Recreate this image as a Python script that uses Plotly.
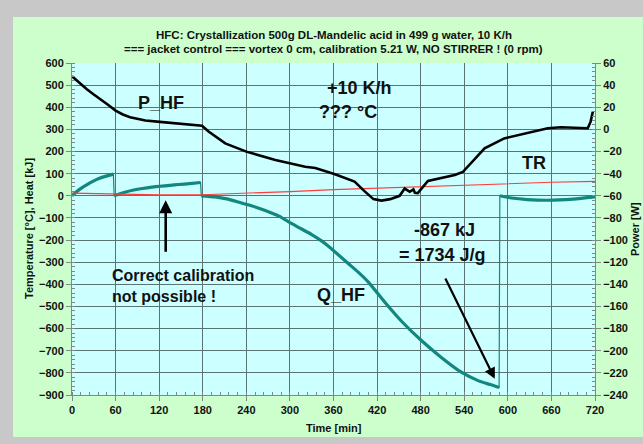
import plotly.graph_objects as go

# ---------------- data ----------------
p_t = [0, 10, 20, 30, 40, 50, 60, 70, 80, 90, 101, 121, 156, 179, 188, 211, 240, 280, 321, 335,
       362, 371, 389, 403, 415, 426, 438, 451, 458, 465, 470, 472, 476, 490, 508, 527, 538, 554,
       568, 595, 627, 655, 673, 710, 714, 717]
p_w = [48, 42, 36.5, 31.5, 27, 22, 17, 13.5, 11, 9.3, 8, 6.8, 5, 3.3, -1.9, -12.6, -20.1, -27.6,
       -33.7, -34.9, -40.5, -42.5, -47.2, -56, -63, -64.3, -63, -60, -53.5, -56.4, -54.3, -57.3,
       -57.5, -46.5, -44.2, -41.2, -38.5, -27.6, -17.1, -8.1, -2.9, 1.0, 1.9, 1.0, 7, 16]

tr_t = [0, 60, 120, 180, 240, 300, 360, 420, 480, 540, 600, 660, 720]
tr_c = [12, 7, 4, 5, 11, 19, 28, 35, 42, 50, 56, 61, 65]

q1_t = [0, 10, 19, 28, 37, 47, 57]
q1_v = [0, 28, 47, 64, 78, 89, 98]
q2_t = [58, 66, 74, 85, 97, 110, 121, 135, 147, 162, 177]
q2_v = [0, 9, 17, 26, 33, 39, 43, 47, 51, 55, 60]
q3_t = [178, 197, 213, 229, 247, 266, 285, 302, 316, 330, 344, 353, 380, 394, 408, 431, 454,
        481, 508, 536, 559, 576, 588]
q3_v = [0, -5, -14, -28, -45, -66, -92, -125, -150, -175, -205, -228, -305, -345, -390, -482,
        -568, -654, -729, -797, -835, -853, -866]
q4_t = [589, 605, 627, 655, 690, 720]
q4_v = [0, -10, -17, -20, -15, -5]

x_ticks = list(range(0, 721, 60))
y_ticks = list(range(-900, 601, 100))
y2_ticks = list(range(-240, 61, 20))

# ---------------- figure ----------------
FONT = "Liberation Sans"
TEAL = "#12877f"
fig = go.Figure()

# thin connecting line (visible only at the vertical jumps)
all_t = q1_t + q2_t + q3_t + q4_t
all_v = q1_v + q2_v + q3_v + q4_v
fig.add_trace(go.Scatter(x=all_t, y=all_v, mode="lines",
                         line=dict(color=TEAL, width=1.2), showlegend=False, hoverinfo="skip"))
seg_t = q1_t + [None] + q2_t + [None] + q3_t + [None] + q4_t
seg_v = q1_v + [None] + q2_v + [None] + q3_v + [None] + q4_v
fig.add_trace(go.Scatter(x=seg_t, y=seg_v, mode="lines", connectgaps=False,
                         line=dict(color=TEAL, width=3.2, shape="spline", smoothing=0.6),
                         name="Q_HF", showlegend=False))
fig.add_trace(go.Scatter(x=tr_t, y=tr_c, mode="lines",
                         line=dict(color="#ff3c3c", width=1.1), name="TR", showlegend=False))
fig.add_trace(go.Scatter(x=p_t, y=p_w, mode="lines", yaxis="y2",
                         line=dict(color="#000000", width=2.6), name="P_HF", showlegend=False))

tickfont = dict(family=FONT, size=11, color="#111111", weight="bold")
gridc = "#5a7474"
axc = "#7a8a8a"

fig.update_layout(
    width=643, height=444,
    margin=dict(l=72, r=48, t=63, b=49),
    paper_bgcolor="#c8c8c8",
    plot_bgcolor="rgba(0,0,0,0)",
    xaxis=dict(range=[0, 720], tickvals=x_ticks, showgrid=True, gridcolor=gridc, gridwidth=1,
               zeroline=False, showline=True, linecolor=axc, linewidth=1,
               ticks="outside", ticklen=5, tickcolor=axc, tickfont=tickfont,
               minor=dict(dtick=12, ticks="inside", ticklen=3, tickcolor=axc, showgrid=False)),
    yaxis=dict(range=[-900, 600], tickvals=y_ticks, showgrid=True, gridcolor=gridc, gridwidth=1,
               zeroline=False, showline=True, linecolor=axc, linewidth=1,
               ticks="outside", ticklen=5, tickcolor=axc, tickfont=tickfont,
               minor=dict(dtick=20, ticks="inside", ticklen=3, tickcolor=axc, showgrid=False)),
    yaxis2=dict(range=[-240, 60], tickvals=y2_ticks, overlaying="y", side="right",
                showgrid=False, zeroline=False, showline=True, linecolor=axc, linewidth=1,
                ticks="outside", ticklen=5, tickcolor=axc, tickfont=tickfont,
                minor=dict(dtick=4, ticks="inside", ticklen=3, tickcolor=axc)),
)

# panels
fig.add_shape(type="rect", xref="paper", yref="paper", x0=(13 - 72) / 523, x1=(645 - 72) / 523,
              y0=(395 - 437) / 332, y1=(395 - 17) / 332, fillcolor="#ccffcc", line_width=0,
              layer="below")
fig.add_shape(type="rect", xref="paper", yref="paper", x0=0, x1=1, y0=0, y1=1,
              fillcolor="#ccffff", line_width=0, layer="below")


def px_x(p):
    return (p - 72) / 523


def px_y(p):
    return (395 - p) / 332


def note(text, x, y, size, xanchor="center", **kw):
    fig.add_annotation(text=text, xref="paper", yref="paper", x=px_x(x), y=px_y(y),
                       xanchor=xanchor, yanchor="middle", showarrow=False,
                       font=dict(family=FONT, size=size, color="#111111", weight="bold"), **kw)


note("HFC: Crystallization 500g DL-Mandelic acid in 499 g water, 10 K/h", 333.5, 35, 11.5)
note("=== jacket control === vortex 0 cm, calibration 5.21 W, NO STIRRER ! (0 rpm)", 333.5, 49, 11.5)
note("Temperature [°C], Heat [kJ]", 29, 229, 11, textangle=-90)
note("Power [W]", 635, 229, 11, textangle=-90)
note("Time [min]", 333.5, 428, 11)

note("P_HF", 161, 103, 18)
note("+10 K/h", 359, 88, 18)
note("??? °C", 348, 112, 18)
note("TR", 534, 163, 18)
note("Q_HF", 341, 295, 18)
note("-867 kJ", 444, 230, 18)
note("= 1734 J/g", 442, 255, 18)
note("Correct calibration<br>not possible !", 110, 286, 16, xanchor="left", align="left")

# arrows
fig.add_annotation(x=129, y=-20, ax=129, ay=-260, xref="x", yref="y", axref="x", ayref="y",
                   text="", showarrow=True, arrowhead=2, arrowsize=1, arrowwidth=2.6, arrowcolor="#000000")
fig.add_annotation(x=582, y=-827, ax=513, ay=-367, xref="x", yref="y", axref="x", ayref="y",
                   text="", showarrow=True, arrowhead=2, arrowsize=1, arrowwidth=2.2, arrowcolor="#000000")

fig.write_html("out.html")
